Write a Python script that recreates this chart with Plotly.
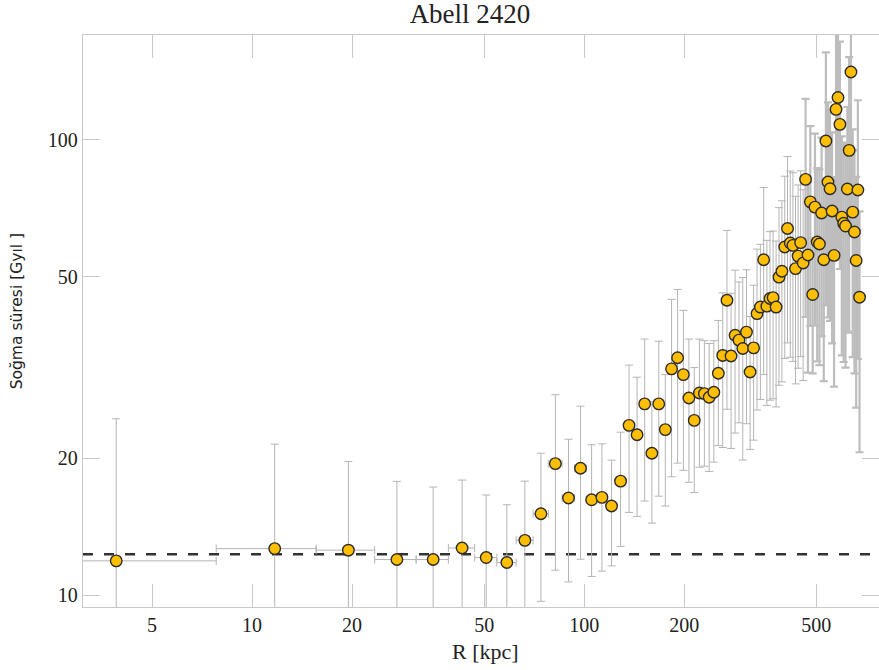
import plotly.graph_objects as go
import math

# ---- data ----
radius_kpc = [3.9, 11.7, 19.5, 27.3, 35.1, 42.9, 50.7, 58.5, 66.3, 74.1,
              81.9, 89.7, 97.5, 105.3, 113.1, 120.9, 128.7, 136.5, 144.3, 152.1,
              159.9, 167.7, 175.5, 183.3, 191.1, 198.9, 206.7, 214.5, 222.3, 230.1,
              237.9, 245.7, 253.5, 261.3, 269.1, 276.9, 284.7, 292.5, 300.3, 308.1,
              315.9, 323.7, 331.5, 339.3, 347.1, 354.9, 362.7, 370.5, 378.3, 386.1,
              393.9, 401.7, 409.5, 417.3, 425.1, 432.9, 440.7, 448.5, 456.3, 464.1,
              471.9, 479.7, 487.5, 495.3, 503.1, 510.9, 518.7, 526.5, 534.3, 542.1,
              549.9, 557.7, 565.5, 573.3, 581.1, 588.9, 596.7, 604.5, 612.3, 620.1,
              627.9, 635.7, 643.5, 651.3, 659.1, 666.9, 674.7]

cooling_time = [11.9, 12.66, 12.56, 11.98, 11.98, 12.7, 12.1, 11.8, 13.2, 15.1,
                19.45, 16.35, 19.0, 16.2, 16.4, 15.7, 17.8, 23.6, 22.5, 26.3,
                20.5, 26.3, 23.1, 31.4, 33.2, 30.5, 27.1, 24.2, 27.8, 27.7,
                27.2, 27.9, 30.7, 33.6, 44.4, 33.5, 37.2, 36.3, 34.8, 37.8,
                30.9, 34.9, 41.5, 42.9, 54.5, 43.1, 44.8, 45.0, 42.9, 49.9,
                51.4, 58.1, 63.8, 59.3, 58.6, 52.1, 55.5, 59.4, 53.6, 81.8,
                55.8, 73.0, 45.7, 71.1, 59.6, 59.0, 69.0, 54.5, 99.3, 80.7,
                78.0, 69.7, 55.7, 116.5, 123.7, 108.0, 67.6, 65.5, 64.6, 77.9,
                94.7, 140.7, 69.3, 62.7, 54.3, 77.5, 45.1]

cooling_err = [12.5, 8.8, 7.1, 5.8, 5.3, 5.2, 4.5, 4.0, 4.6, 5.4,
               8.1, 5.65, 7.0, 5.2, 5.1, 4.1, 5.0, 8.4, 7.6, 10.2,
               6.1, 9.8, 7.4, 13.2, 13.7, 11.7, 9.4, 7.4, 8.7, 8.5,
               8.5, 8.3, 9.4, 12.5, 18.8, 12.5, 14.5, 12.4, 15.0, 14.0,
               10.0, 13.0, 16.0, 16.0, 24.0, 17.0, 18.0, 18.0, 17.0, 21.0,
               22.0, 25.0, 28.0, 26.0, 26.0, 23.0, 24.0, 26.0, 24.0, 41.0,
               25.0, 34.0, 15.0, 32.0, 27.0, 27.0, 32.0, 25.0, 56.0, 40.0,
               38.0, 34.0, 27.0, 62.0, 66.0, 56.0, 34.0, 33.0, 33.0, 40.0,
               57.0, 75.0, 36.0, 32.0, 28.5, 44.5, 24.5]

bin_halfwidth = 3.9          # kpc
reference_level = 12.3       # Gyr, dashed line

x_tickvals = [5, 10, 20, 50, 100, 200, 500]
y_tickvals = [10, 20, 50, 100]

title_text = "Abell 2420"
x_title = "R [kpc]"
y_title = "Soğma süresi [Gyıl ]"

# ---- build ----
n = len(radius_kpc)
x_minus = [min(bin_halfwidth, 0.98 * r) for r in radius_kpc]
y_minus = [min(e, 0.97 * y) for e, y in zip(cooling_err, cooling_time)]

split = 59  # densely packed outer bins

fig = go.Figure()

def err_trace(sl, thick, color):
    return go.Scatter(
        x=radius_kpc[sl], y=cooling_time[sl], mode="markers",
        marker=dict(size=2, opacity=0),
        error_y=dict(type="data", array=cooling_err[sl], arrayminus=y_minus[sl],
                     color=color, thickness=thick, width=4),
        error_x=dict(type="data", array=[bin_halfwidth] * len(radius_kpc[sl]),
                     arrayminus=x_minus[sl], color=color, thickness=thick, width=4),
        hoverinfo="skip", showlegend=False)

fig.add_trace(err_trace(slice(0, split), 1, "#b4b4b4"))
fig.add_trace(err_trace(slice(split, n), 2.2, "#bdbdbd"))

fig.add_trace(go.Scatter(
    x=radius_kpc, y=cooling_time, mode="markers",
    marker=dict(size=11.5, color="#FFBF00", line=dict(color="#2b2b2b", width=1.4)),
    showlegend=False))

fig.add_shape(type="line", xref="paper", x0=0, x1=1, yref="y",
              y0=reference_level, y1=reference_level,
              line=dict(color="#333333", width=2.6, dash="10px,11px"), layer="below")

axis_common = dict(
    type="log", showgrid=False, zeroline=False, showline=True,
    linecolor="#c8c8c8", linewidth=1.3, mirror="ticks",
    ticks="inside", tickcolor="#c8c8c8", tickwidth=1.3,
    tickfont=dict(family="Liberation Serif", size=20, color="#222222"),
)

fig.update_xaxes(**axis_common, range=[0.4910, 2.8877], ticklen=23,
                 tickvals=x_tickvals, ticktext=[str(v) for v in x_tickvals])
fig.update_yaxes(**axis_common, range=[0.9743, 2.2295], ticklen=17,
                 tickvals=y_tickvals, ticktext=[str(v) for v in y_tickvals])

fig.update_layout(
    width=879, height=670,
    margin=dict(l=83, r=0, t=35, b=63),
    paper_bgcolor="white", plot_bgcolor="white",
    title=dict(text=title_text, x=470 / 879, xref="container", xanchor="center",
               y=1 - 14 / 670, yref="container", yanchor="middle",
               font=dict(family="Liberation Serif", size=27, color="#222222")),
    annotations=[
        dict(text=x_title, xref="paper", yref="paper", x=(485 - 83) / 796,
             y=(606.7 - 651) / 572, xanchor="center", yanchor="middle",
             showarrow=False,
             font=dict(family="Liberation Serif", size=22, color="#222222")),
        dict(text=y_title, xref="paper", yref="paper", x=(17 - 83) / 796,
             y=(606.7 - 311) / 572, xanchor="center", yanchor="middle",
             textangle=-90, showarrow=False,
             font=dict(family="DejaVu Sans", size=15.5, color="#222222")),
    ],
)

fig.write_html("out.html")
